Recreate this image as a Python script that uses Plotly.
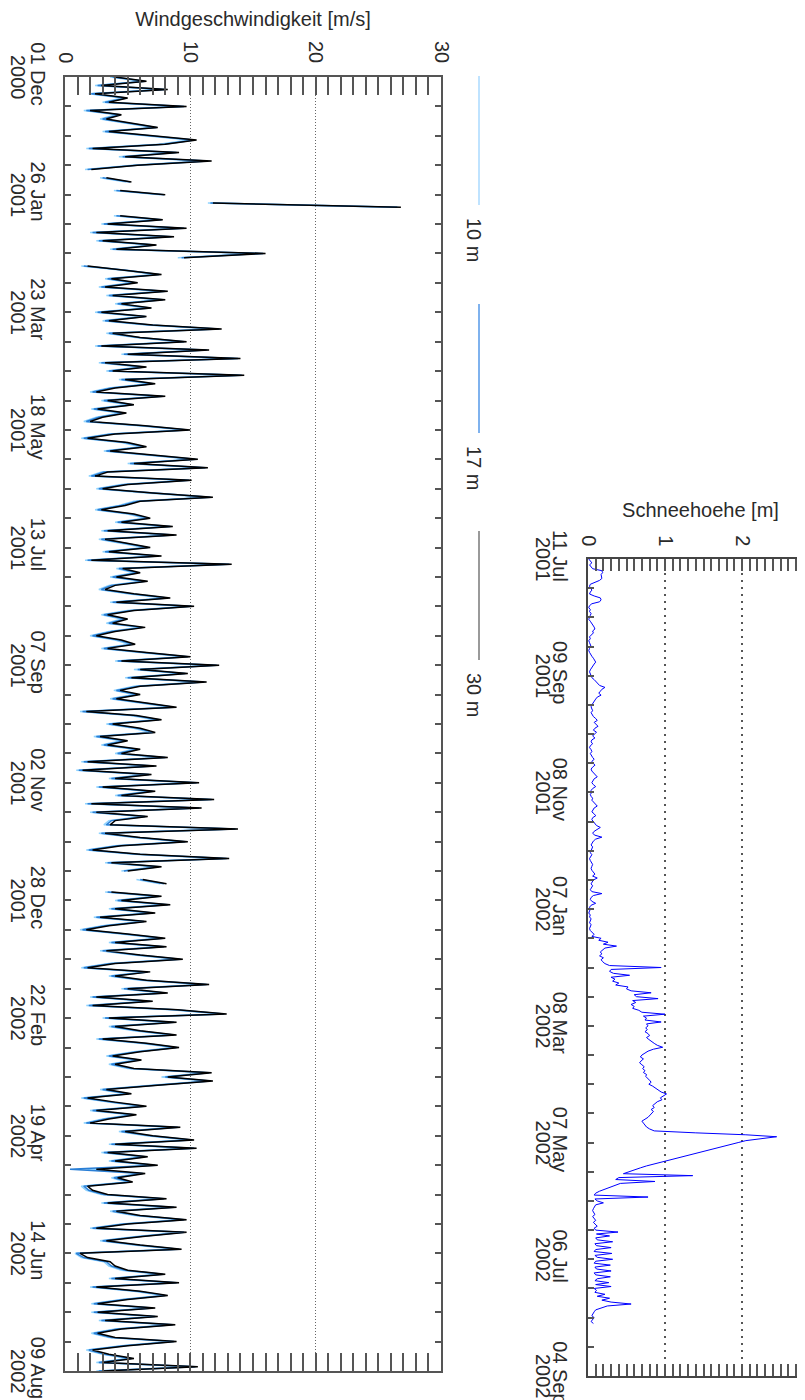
import pandas as pd
import plotly.graph_objects as go

# ---------------- data ----------------
# wind speed [m/s], one value every 2 days starting 2000-12-01
wind_30m = [
    4.0, 6.5, 2.9, 8.2, 2.4, 5.0, 3.5, 9.7, 2.0, 4.5,
    3.3, 5.3, 7.4, 3.5, 7.0, 10.5, 8.0, 2.2, 9.1, 4.8,
    11.7, 5.8, 2.1, None, 3.3, 5.3, None, 4.4, 8.0, None,
    11.8, 26.8, None,
    4.4, 7.8, 3.4, 9.7, 2.5, 8.7, 3.0, 7.3, 4.1, 16.0,
    9.5, None, 1.8, 5.0, 7.7, 3.7, 5.8, 3.2, 8.2, 3.8,
    8.0, 4.5, 6.9, 2.9, 6.5, 3.5, 7.0, 12.5, 3.8, 6.0,
    9.7, 2.9, 11.5, 5.0, 14.0, 3.2, 6.5, 3.8, 14.3, 4.8,
    7.2, 4.0, 2.5, 8.0,
    3.4, 5.5, 2.6, 4.9, 3.0, 2.0, 6.4, 10.0, 4.0, 1.8,
    5.0, 6.5, 3.6, 7.0, 10.6, 5.5, 11.4, 3.4, 2.4, 10.1,
    5.0, 3.0, 7.0, 11.8, 6.0, 4.8, 2.9, 5.5, 6.8, 4.5,
    8.6, 3.4, 8.9, 3.2, 5.0, 6.8, 3.5, 7.7, 2.1, 13.3,
    4.6, 6.0, 4.1, 6.6, 4.0, 3.2, 5.5, 8.4, 4.1, 10.3,
    5.5, 3.4, 5.0, 3.8, 6.4, 4.0, 2.5, 4.5, 5.6, 3.4,
    6.5, 10.0, 4.5, 12.3, 6.0, 9.8, 5.3, 11.3, 6.0, 4.4,
    6.0, 4.1, 6.5, 8.9, 1.7, 5.7, 7.7, 3.8, 6.0,
    7.2, 2.8, 5.0, 3.4, 6.0, 4.5, 8.2, 1.8, 7.3, 1.4,
    6.9, 4.0, 10.7, 3.0, 7.2, 4.5, 11.9, 2.1, 10.9, 2.5,
    6.6, 4.0, 3.6, 13.8, 3.2, 6.0, 9.8, 4.5, 2.2, 6.0,
    13.1, 3.7, 7.7, 5.0, None, 6.2, 8.1, None, 3.7, 7.7,
    4.5, 8.4, 4.0, 7.2, 2.8, 6.5, 3.5, 1.7, 5.0, 8.0,
    4.0, 8.1, 3.3, 6.0, 9.4, 4.0, 1.8, 6.8, 4.0, 6.5,
    11.5, 5.0, 8.2, 2.5, 7.0, 2.2, 9.0, 12.9, 3.5, 8.9,
    4.0, 6.0, 8.9, 3.0, 6.5, 9.1,
    6.0, 3.8, 6.1, 4.0, 5.5, 11.7, 8.2, 11.8, 7.4, 3.3,
    5.3, 1.8, 4.0, 6.5, 2.5, 5.7, 3.5, 2.0, 9.2, 4.8,
    7.0, 10.3, 4.0, 10.5, 3.4, 6.6, 4.0, 7.4, 2.5, 6.4,
    4.2, 5.4, 1.8, 2.2, 3.4, 8.1, 3.4, 8.9, 4.1, 6.0,
    9.7, 5.0, 2.5, 9.7, 6.2, 3.3, 6.0, 9.3, 1.2, 1.8,
    3.6, 4.0, 5.0, 8.0, 4.0, 9.1, 2.5, 6.0, 8.2, 5.0,
    2.6, 7.2, 2.6, 7.4, 3.2, 8.8, 4.5, 2.6, 4.0, 8.9,
    5.0, 2.2, 3.5, 5.5, 3.0, 10.6, 3.0,
]

wind_17m = [
    3.8, 6.4, 2.6, 8.0, 2.1, 4.9, 3.2, 9.5, 1.7, 4.4,
    3.0, 5.1, 7.3, 3.2, 6.8, 10.3, 7.9, 1.9, 8.9, 4.6,
    11.4, 5.7, 1.8, None, 3.0, 5.2, None, 4.1, 7.9, None,
    11.6, 26.5, None,
    4.1, 7.7, 3.1, 9.5, 2.2, 8.5, 2.7, 7.2, 3.8, 15.8,
    9.3, None, 1.5, 4.9, 7.5, 3.4, 5.6, 2.9, 8.0, 3.5,
    7.8, 4.2, 6.8, 2.6, 6.4, 3.2, 6.8, 12.3, 3.5, 5.9,
    9.5, 2.6, 11.3, 4.7, 13.8, 2.9, 6.3, 3.5, 14.1, 4.5,
    7.0, 3.7, 2.2, 7.8,
    3.1, 5.4, 2.3, 4.7, 2.7, 1.7, 6.2, 9.8, 3.7, 1.5,
    4.8, 6.3, 3.3, 6.9, 10.4, 5.2, 11.2, 3.1, 2.1, 9.9,
    4.8, 2.7, 6.8, 11.6, 5.8, 4.5, 2.6, 5.3, 6.6, 4.2,
    8.4, 3.1, 8.7, 2.9, 4.8, 6.6, 3.2, 7.5, 1.8, 13.1,
    4.3, 5.8, 3.8, 6.4, 3.7, 2.9, 5.3, 8.2, 3.8, 10.1,
    5.3, 3.1, 4.8, 3.5, 6.2, 3.7, 2.2, 4.3, 5.4, 3.1,
    6.3, 9.8, 4.2, 12.1, 5.8, 9.6, 5.0, 11.1, 5.8, 4.1,
    5.8, 3.8, 6.3, 8.7, 1.4, 5.5, 7.5, 3.5, 5.8,
    7.0, 2.5, 4.8, 3.1, 5.8, 4.2, 8.0, 1.5, 7.1, 1.1,
    6.7, 3.7, 10.5, 2.7, 7.0, 4.2, 11.7, 1.8, 10.7, 2.2,
    6.4, 3.7, 3.3, 13.6, 2.9, 5.8, 9.6, 4.2, 1.9, 5.8,
    12.9, 3.4, 7.5, 4.7, None, 6.0, 7.9, None, 3.4, 7.5,
    4.2, 8.2, 3.7, 7.0, 2.5, 6.3, 3.2, 1.4, 4.8, 7.8,
    3.7, 7.9, 3.0, 5.8, 9.2, 3.7, 1.5, 6.6, 3.7, 6.3,
    11.3, 4.7, 8.0, 2.2, 6.8, 1.9, 8.8, 12.7, 3.2, 8.7,
    3.7, 5.8, 8.7, 2.7, 6.3, 8.9,
    5.8, 3.5, 5.9, 3.7, 5.3, 11.5, 8.0, 11.6, 7.2, 3.0,
    5.1, 1.5, 3.7, 6.3, 2.2, 5.5, 3.2, 1.7, 9.0, 4.5,
    6.8, 10.1, 3.7, 10.3, 3.1, 6.4, 3.7, 7.2, 0.4, 6.2,
    3.9, 5.2, 1.5, 1.9, 3.1, 7.9, 3.1, 8.7, 3.8, 5.8,
    9.5, 4.7, 2.2, 9.5, 6.0, 3.0, 5.8, 9.1, 0.9, 1.5,
    3.3, 3.7, 4.8, 7.8, 3.7, 8.9, 2.2, 5.8, 8.0, 4.7,
    2.3, 7.0, 2.3, 7.2, 2.9, 8.6, 4.2, 2.3, 3.7, 8.7,
    4.7, 1.9, 3.2, 5.3, 2.7, 10.4, 2.7,
]

wind_10m = [
    3.6, 6.1, 2.4, 7.7, 1.9, 4.6, 3.0, 9.2, 1.5, 4.1,
    2.8, 4.8, 7.0, 3.0, 6.5, 9.9, 7.5, 1.7, 8.6, 4.3,
    11.0, 5.4, 1.6, None, 2.8, 4.9, None, 3.9, 7.6, None,
    11.4, 26.6, None,
    3.9, 7.3, 2.9, 9.2, 2.0, 8.2, 2.5, 6.9, 3.6, 15.4,
    9.0, None, 1.3, 4.6, 7.2, 3.2, 5.3, 2.7, 7.7, 3.3,
    7.5, 4.0, 6.4, 2.4, 6.0, 3.0, 6.5, 11.9, 3.3, 5.6,
    9.2, 2.4, 11.0, 4.5, 13.5, 2.7, 6.0, 3.3, 13.8, 4.3,
    6.7, 3.5, 2.0, 7.5,
    2.9, 5.0, 2.1, 4.4, 2.5, 1.5, 5.9, 9.5, 3.5, 1.3,
    4.5, 6.0, 3.1, 6.5, 10.1, 5.0, 10.9, 2.9, 1.9, 9.6,
    4.5, 2.5, 6.5, 11.3, 5.5, 4.3, 2.4, 5.0, 6.3, 4.0,
    8.1, 2.9, 8.4, 2.7, 4.5, 6.3, 3.0, 7.2, 1.6, 12.8,
    4.1, 5.5, 3.6, 6.1, 3.5, 2.7, 5.0, 7.9, 3.6, 9.8,
    5.0, 2.9, 4.5, 3.3, 5.9, 3.5, 2.0, 4.0, 5.1, 2.9,
    6.0, 9.5, 4.0, 11.8, 5.5, 9.3, 4.8, 10.8, 5.5, 3.9,
    5.5, 3.6, 6.0, 8.4, 1.2, 5.2, 7.2, 3.3, 5.5,
    6.7, 2.3, 4.5, 2.9, 5.5, 4.0, 7.7, 1.3, 6.8, 0.9,
    6.4, 3.5, 10.2, 2.5, 6.7, 4.0, 11.4, 1.6, 10.4, 2.0,
    6.1, 3.5, 3.1, 13.3, 2.7, 5.5, 9.3, 4.0, 1.7, 5.5,
    12.6, 3.2, 7.2, 4.5, None, 5.7, 7.6, None, 3.2, 7.2,
    4.0, 7.9, 3.5, 6.7, 2.3, 6.0, 3.0, 1.2, 4.5, 7.5,
    3.5, 7.6, 2.8, 5.5, 8.9, 3.5, 1.3, 6.3, 3.5, 6.0,
    11.0, 4.5, 7.7, 2.0, 6.5, 1.7, 8.5, 12.4, 3.0, 8.4,
    3.5, 5.5, 8.4, 2.5, 6.0, 8.6,
    5.5, 3.3, 5.6, 3.5, 5.0, 11.2, 7.7, 11.3, 6.9, 2.8,
    4.8, 1.3, 3.5, 6.0, 2.0, 5.2, 3.0, 1.5, 8.7, 4.3,
    6.5, 9.8, 3.5, 10.0, 2.9, 6.1, 3.5, 6.9, 1.8, 5.9,
    3.7, 4.9, 1.3, 1.7, 2.9, 7.6, 2.9, 8.4, 3.6, 5.5,
    9.2, 4.5, 2.0, 9.2, 5.7, 2.8, 5.5, 8.8, 0.8, 1.3,
    3.1, 3.5, 4.5, 7.5, 3.5, 8.6, 2.0, 5.5, 7.7, 4.5,
    2.1, 6.7, 2.1, 6.9, 2.7, 8.3, 4.0, 2.1, 3.5, 8.4,
    4.5, 1.7, 3.0, 5.0, 2.5, 10.1, 2.5,
]

# snow height [m], daily from 2001-07-11
snow_height = [
    0.01, 0.03, 0.05, 0.02, 0.04, 0.06, 0.18, 0.19, 0.17, 0.18,
    0.18, 0.15, 0.10, 0.03, 0.02, 0.04, 0.05, 0.03, 0.02, 0.08,
    0.16, 0.17, 0.15, 0.05, 0.02, 0.01, 0.03, 0.02, 0.04, 0.03,
    0.02, 0.01, 0.03, 0.05, 0.06, 0.08, 0.09, 0.06, 0.07, 0.04,
    0.02, 0.03, 0.01, 0.02, 0.03, 0.04, 0.02, 0.01, 0.02, 0.03,
    0.05, 0.07, 0.09, 0.10, 0.08, 0.06, 0.04, 0.03, 0.02, 0.03,
    0.04, 0.05, 0.08, 0.10, 0.12, 0.15, 0.22, 0.18, 0.16, 0.14,
    0.17, 0.12, 0.10, 0.08, 0.06, 0.05, 0.04, 0.05, 0.06, 0.04,
    0.05, 0.07, 0.10, 0.12, 0.08, 0.10, 0.13, 0.09, 0.07, 0.11,
    0.08, 0.06, 0.09, 0.05, 0.04, 0.06, 0.03, 0.02, 0.04, 0.05,
    0.03, 0.04, 0.06, 0.08, 0.05, 0.07, 0.09, 0.06, 0.04, 0.05,
    0.07, 0.09, 0.12, 0.08, 0.06, 0.05, 0.07, 0.10, 0.06, 0.04,
    0.05, 0.03, 0.04, 0.06, 0.05, 0.07, 0.09, 0.12, 0.08, 0.06,
    0.05, 0.08, 0.10, 0.06, 0.05, 0.07, 0.09, 0.11, 0.16, 0.12,
    0.08, 0.06, 0.09, 0.18, 0.10, 0.07, 0.05, 0.04, 0.06, 0.05,
    0.04, 0.03, 0.05, 0.04, 0.02, 0.03, 0.04, 0.06, 0.05, 0.04,
    0.05, 0.07, 0.09, 0.06, 0.12, 0.07, 0.05, 0.04, 0.06, 0.04,
    0.03, 0.05, 0.18, 0.07, 0.04, 0.03, 0.05, 0.10, 0.04, 0.02,
    0.03, 0.02, 0.01, 0.03, 0.02, 0.04, 0.03, 0.02, 0.04, 0.03,
    0.02, 0.03, 0.05, 0.08, 0.05, 0.17, 0.14, 0.26, 0.20, 0.37,
    0.22, 0.19, 0.16, 0.18, 0.15, 0.20, 0.17, 0.19, 0.22, 0.28,
    0.95, 0.30, 0.28, 0.33, 0.54, 0.30, 0.35, 0.32, 0.40, 0.36,
    0.52, 0.50, 0.56, 0.82, 0.60, 0.63, 0.91, 0.58, 0.62, 0.56,
    0.60, 0.58, 0.66, 0.70, 1.00, 0.72, 0.76, 0.74, 0.95, 0.76,
    0.78, 0.75, 0.77, 0.74, 0.78, 0.80, 0.76, 0.79, 0.82, 0.86,
    0.90, 0.97, 0.85, 0.78, 0.74, 0.70, 0.68, 0.72, 0.69, 0.67,
    0.70, 0.73, 0.71, 0.74, 0.72, 0.76, 0.75, 0.78, 0.80, 0.82,
    0.79, 0.84, 0.88, 0.92, 0.95, 1.02, 0.98, 0.94, 0.96, 0.90,
    0.87, 0.84, 0.86, 0.82, 0.85, 0.83, 0.80, 0.78, 0.74, 0.70,
    0.72, 0.74, 0.76, 0.80, 0.86, 1.40, 2.05, 2.45, 2.25, 2.05,
    1.95, 1.85, 1.74, 1.62, 1.52, 1.42, 1.32, 1.22, 1.12, 1.02,
    0.93, 0.84, 0.76, 0.68, 0.60, 0.52, 0.46, 1.36, 0.40, 0.36,
    0.87, 0.42, 0.35, 0.30, 0.22, 0.15, 0.10, 0.08, 0.78, 0.09,
    0.12, 0.20, 0.10, 0.08, 0.07, 0.06, 0.07, 0.09, 0.06, 0.08,
    0.10, 0.07, 0.09, 0.12, 0.08, 0.10, 0.39, 0.11, 0.28, 0.10,
    0.12, 0.32, 0.09, 0.11, 0.30, 0.10, 0.08, 0.31, 0.09, 0.12,
    0.32, 0.10, 0.08, 0.29, 0.09, 0.11, 0.30, 0.08, 0.10, 0.29,
    0.12, 0.09, 0.27, 0.10, 0.30, 0.08, 0.11, 0.09, 0.22, 0.12,
    0.28, 0.18, 0.30, 0.56, 0.25, 0.16, 0.10, 0.08, 0.07, 0.05,
    0.08, 0.06, 0.04, 0.07,
]

wind_tick_dates = ['2000-12-01', '2001-01-26', '2001-03-23', '2001-05-18',
                   '2001-07-13', '2001-09-07', '2001-11-02', '2001-12-28',
                   '2002-02-22', '2002-04-19', '2002-06-14', '2002-08-09']
wind_tick_daymonth = ['01 Dec', '26 Jan', '23 Mar', '18 May', '13 Jul', '07 Sep',
                      '02 Nov', '28 Dec', '22 Feb', '19 Apr', '14 Jun', '09 Aug']
wind_tick_year = ['2000', '2001', '2001', '2001', '2001', '2001',
                  '2001', '2001', '2002', '2002', '2002', '2002']
snow_tick_dates = ['2001-07-11', '2001-09-09', '2001-11-08', '2002-01-07',
                   '2002-03-08', '2002-05-07', '2002-07-06', '2002-09-04']
snow_tick_daymonth = ['11 Jul', '09 Sep', '08 Nov', '07 Jan',
                      '08 Mar', '07 May', '06 Jul', '04 Sep']
snow_tick_year = ['2001', '2001', '2001', '2002', '2002', '2002', '2002', '2002']
wind_value_ticks = [0, 10, 20, 30]
snow_value_ticks = [0, 1, 2, 3]
legend_labels = ['10 m', '17 m', '30 m']

# ---------------- figure ----------------
W, H = 805, 1400
FONT = 'Liberation Sans, Arial, sans-serif'
AX = '#555555'
TXT = '#2a2a2a'
FS = 20
DAY_MS = 86400000


def px(x):
    return x / W


def py(y):
    return 1 - y / H


def dates_for(values, start, freq):
    return pd.date_range(start, periods=len(values), freq=freq)


fig = go.Figure()

series = [
    (wind_10m, '10 m', '#8fd3ff', 1.5),
    (wind_17m, '17 m', '#2a7fd6', 1.5),
    (wind_30m, '30 m', '#000000', 1.5),
]
for vals, name, color, width in series:
    fig.add_trace(go.Scatter(
        x=vals, y=dates_for(vals, '2000-12-01', '2D'), mode='lines', name=name,
        line=dict(color=color, width=width), connectgaps=False,
        xaxis='x', yaxis='y', showlegend=False))

fig.add_trace(go.Scatter(
    x=snow_height, y=dates_for(snow_height, '2001-07-11', 'D'), mode='lines',
    name='Schneehoehe', line=dict(color='#0000ff', width=1),
    xaxis='x2', yaxis='y2', showlegend=False))

tickfont = dict(family=FONT, size=FS, color=TXT)


def date_axis(domain, rng, anchor, tickvals, ticktext, tick0, minor_days, standoff):
    return dict(
        domain=domain, type='date', anchor=anchor, range=rng,
        tickmode='array', tickvals=tickvals, ticktext=ticktext,
        tickangle=90, ticks='inside', ticklen=6, tickwidth=1.5, tickcolor=AX,
        showline=True, linecolor=AX, linewidth=1.5,
        showgrid=False, zeroline=False, tickfont=tickfont, automargin=False,
        ticklabelstandoff=standoff,
        minor=dict(tickmode='linear', tick0=tick0, dtick=minor_days * DAY_MS,
                   ticks='inside', ticklen=6, tickwidth=1.5, tickcolor=AX, showgrid=False),
    )


wind_range = ['2002-08-09', '2000-12-01']
snow_range = ['2002-09-04', '2001-07-11']

yaxis_wind = date_axis([py(1363), py(69)], wind_range, 'x', wind_tick_dates,
                       wind_tick_daymonth, '2000-12-01', 14, 8)
yaxis_wind['mirror'] = 'ticks'
yaxis_snow = date_axis([py(1368), py(551)], snow_range, 'x2', snow_tick_dates,
                       snow_tick_daymonth, '2001-07-11', 15, 9)
yaxis_snow['mirror'] = False
yaxis_snow['linecolor'] = '#444444'

fig.update_layout(
    width=W, height=H,
    margin=dict(l=0, r=0, t=0, b=0),
    paper_bgcolor='white', plot_bgcolor='white',
    font=dict(family=FONT, size=FS, color=TXT),
    showlegend=False,
    xaxis=dict(
        domain=[px(57), px(433)], range=[0, 30], side='top', anchor='y',
        tickmode='array', tickvals=wind_value_ticks,
        ticktext=[str(v) for v in wind_value_ticks], tickangle=90,
        ticks='inside', ticklen=18, tickwidth=1.5, tickcolor=AX,
        showline=True, linecolor=AX, linewidth=1.5, mirror='ticks',
        showgrid=True, gridcolor='#666666', gridwidth=1, griddash='1px,2px',
        zeroline=False, tickfont=tickfont, automargin=False, ticklabelstandoff=5,
        minor=dict(tickmode='linear', tick0=0, dtick=1, ticks='inside', ticklen=18,
                   tickwidth=1.5, tickcolor=AX, showgrid=False),
        title=dict(text='Windgeschwindigkeit [m/s]', font=dict(family=FONT, size=FS, color=TXT),
                   standoff=12),
    ),
    yaxis=yaxis_wind,
    xaxis2=dict(
        domain=[px(580), 1.0], range=[0, 225 / 77], side='top', anchor='y2',
        tickmode='array', tickvals=snow_value_ticks,
        ticktext=[str(v) for v in snow_value_ticks], tickangle=90,
        ticks='inside', ticklen=12, tickwidth=1.5, tickcolor=AX,
        showline=True, linecolor='#444444', linewidth=1.5, mirror='ticks',
        showgrid=True, gridcolor='#555555', gridwidth=2, griddash='2px,5px',
        zeroline=False, tickfont=tickfont, automargin=False, ticklabelstandoff=4,
        minor=dict(tickmode='linear', tick0=0, dtick=0.1, ticks='inside', ticklen=12,
                   tickwidth=1.5, tickcolor=AX, showgrid=False),
        title=dict(text='Schneehoehe [m]', font=dict(family=FONT, size=FS, color=TXT),
                   standoff=12),
    ),
    yaxis2=yaxis_snow,
)

# year line of the two-line date labels, placed at the tick dates of each date axis
for yref, xpos, dates, years in [('y', 10, wind_tick_dates, wind_tick_year),
                                 ('y2', 535, snow_tick_dates, snow_tick_year)]:
    for d, yr in zip(dates, years):
        fig.add_annotation(xref='paper', yref=yref, x=px(xpos), y=d, text=yr,
                           showarrow=False, textangle=90, xanchor='center',
                           yanchor='middle', font=tickfont)

# legend drawn as vertical line samples with rotated labels
legend_colors = ['#bfe3ff', '#7fb2ee', '#9a9a9a']
legend_tops = [68, 296, 523]
for label, color, top in zip(legend_labels, legend_colors, legend_tops):
    fig.add_shape(type='line', xref='paper', yref='paper',
                  x0=px(471), x1=px(471), y0=py(top), y1=py(top + 129),
                  line=dict(color=color, width=2))
    fig.add_annotation(xref='paper', yref='paper', x=px(466), y=py(top + 164),
                       text=label, showarrow=False, textangle=90,
                       xanchor='center', yanchor='middle',
                       font=dict(family=FONT, size=FS, color=TXT))

fig.write_html('out.html')
